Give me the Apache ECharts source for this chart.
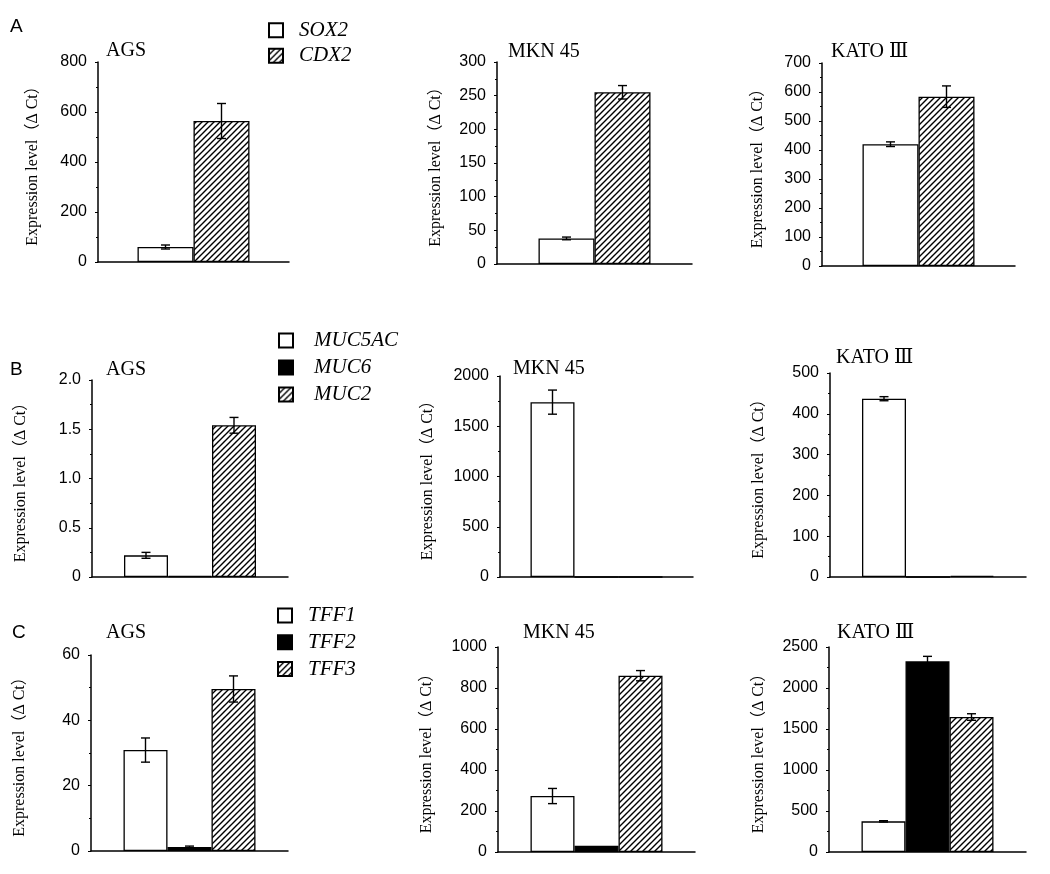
<!DOCTYPE html>
<html>
<head>
<meta charset="utf-8">
<script src="https://cdn.jsdelivr.net/npm/echarts@6/dist/echarts.min.js"></script>
<style>
html,body{margin:0;padding:0;background:#fff;}
#chart{width:1050px;height:874px;}
</style>
</head>
<body>
<div id="chart"></div>
<script>
// ---------------- DATA ----------------
const cellLines = ['AGS', 'MKN 45', 'KATO Ⅲ'];
const panelLetters = ['A', 'B', 'C'];
const yName = 'Expression level（Δ Ct）';

// Panel A
const genesA = ['SOX2', 'CDX2'];
const sox2 = [60, 38, 420];
const sox2Err = [8, 2, 8];
const cdx2 = [564, 255, 584];
const cdx2Err = [70, 10, 37];
const yMaxA = [800, 300, 700];
const yStepA = [200, 50, 100];

// Panel B
const genesB = ['MUC5AC', 'MUC6', 'MUC2'];
const muc5ac = [0.22, 1740, 437];
const muc5acErr = [0.03, 120, 5];
const muc6 = [0.01, 0, 0];
const muc6Err = [0, 0, 0];
const muc2 = [1.54, 0, 3];
const muc2Err = [0.08, 0, 0];
const yMaxB = [2, 2000, 500];
const yStepB = [0.5, 500, 100];

// Panel C
const genesC = ['TFF1', 'TFF2', 'TFF3'];
const tff1 = [30.9, 273, 374];
const tff1Err = [3.7, 37, 8];
const tff2 = [1.2, 30, 2326];
const tff2Err = [0.3, 0, 60];
const tff3 = [49.6, 860, 1646];
const tff3Err = [4, 25, 40];
const yMaxC = [60, 1000, 2500];
const yStepC = [20, 200, 500];

// tick label text for the AGS panel of B (decimal labels)
const tickLabelsB0 = {0: '0', 0.5: '0.5', 1: '1.0', 1.5: '1.5', 2: '2.0'};

// ---------------- STYLE / LAYOUT ----------------
const hatch = (function () {
  const c = document.createElement('canvas');
  c.width = 6; c.height = 6;
  const ctx = c.getContext('2d');
  ctx.fillStyle = '#fff'; ctx.fillRect(0, 0, 6, 6);
  ctx.strokeStyle = '#000'; ctx.lineWidth = 1.4;
  ctx.beginPath();
  ctx.moveTo(0, 6); ctx.lineTo(6, 0);
  ctx.moveTo(-1, 1); ctx.lineTo(1, -1);
  ctx.moveTo(5, 7); ctx.lineTo(7, 5);
  ctx.stroke();
  return c;
})();
const fills = {
  open: '#ffffff',
  solid: '#000000',
  hatch: {image: hatch, repeat: 'repeat'}
};

const rows = [
  {genes: genesA, vals: [sox2, cdx2], errs: [sox2Err, cdx2Err], styles: ['open', 'hatch'], barW: 56, yMax: yMaxA, yStep: yStepA},
  {genes: genesB, vals: [muc5ac, muc6, muc2], errs: [muc5acErr, muc6Err, muc2Err], styles: ['open', 'solid', 'hatch'], barW: 44, yMax: yMaxB, yStep: yStepB},
  {genes: genesC, vals: [tff1, tff2, tff3], errs: [tff1Err, tff2Err, tff3Err], styles: ['open', 'solid', 'hatch'], barW: 44, yMax: yMaxC, yStep: yStepC}
];

const gridRects = [
  {left: 98, top: 62, width: 191, height: 200},
  {left: 497, top: 62, width: 195, height: 202},
  {left: 822, top: 63, width: 193, height: 203},
  {left: 92, top: 380, width: 196, height: 197},
  {left: 500, top: 376, width: 193, height: 201},
  {left: 830, top: 373, width: 196, height: 204},
  {left: 91, top: 655, width: 197, height: 196},
  {left: 498, top: 647, width: 197, height: 205},
  {left: 829, top: 647, width: 197, height: 205}
];
const nameGaps = [57, 53, 56, 63, 64, 63, 63, 63, 62];
const titlePos = [
  [106, 41], [508, 42], [831, 42],
  [106, 360], [513, 359], [836, 348],
  [106, 623], [523, 623], [837, 623]
];
const letterPos = [[10, 17.5], [10, 360], [12, 623.5]];
const legendPos = [
  {left: 268, top: 19.7, itemGap: 4.5, pad: 11},
  {left: 278, top: 330, itemGap: 6, pad: 16},
  {left: 277, top: 605, itemGap: 5.8, pad: 11}
];

const serif = "'Liberation Serif', 'Times New Roman', 'DejaVu Serif', 'Noto Sans CJK SC', serif";
const sans = "'Liberation Sans', Arial, sans-serif";
const black = '#000';

const grid = [], xAxis = [], yAxis = [], series = [], title = [], legend = [];

rows.forEach((row, r) => {
  const n = row.genes.length;
  legend.push({
    data: row.genes,
    orient: 'vertical',
    left: legendPos[r].left,
    top: legendPos[r].top,
    itemGap: legendPos[r].itemGap,
    itemWidth: 14,
    itemHeight: 14,
    icon: 'rect',
    selectedMode: false,
    padding: 0,
    textStyle: {fontFamily: serif, fontStyle: 'italic', fontSize: 21, color: black, lineHeight: 20, padding: [0, 0, 0, legendPos[r].pad]}
  });
  title.push({
    text: panelLetters[r], left: letterPos[r][0], top: letterPos[r][1], padding: 0,
    textStyle: {fontFamily: sans, fontSize: 19, fontWeight: 'normal', color: black}
  });
  cellLines.forEach((cell, c) => {
    const gi = r * 3 + c;
    grid.push(Object.assign({containLabel: false}, gridRects[gi]));
    title.push({
      text: cell, left: titlePos[gi][0], top: titlePos[gi][1], padding: 0,
      textStyle: {fontFamily: serif, fontSize: 20, fontWeight: 'normal', color: black}
    });
    xAxis.push({
      type: 'category', gridIndex: gi, data: [''],
      axisLine: {show: true, lineStyle: {color: black, width: 1.5}},
      axisTick: {show: false}, axisLabel: {show: false}, splitLine: {show: false}
    });
    const isB0 = (r === 1 && c === 0);
    yAxis.push({
      type: 'value', gridIndex: gi, min: 0, max: row.yMax[c], interval: row.yStep[c],
      splitLine: {show: false},
      axisLine: {show: true, lineStyle: {color: black, width: 1.5}},
      axisTick: {show: true, length: 3, lineStyle: {color: black, width: 1}},
      minorTick: {show: true, splitNumber: 2, length: 2, lineStyle: {color: black, width: 1}},
      axisLabel: {
        margin: 11, fontFamily: sans, fontSize: 16, color: black,
        formatter: isB0 ? (v => tickLabelsB0[v] !== undefined ? tickLabelsB0[v] : String(v)) : (v => String(v))
      },
      name: yName, nameLocation: 'middle', nameGap: nameGaps[gi],
      nameTextStyle: {fontFamily: serif, fontSize: 16, color: black}
    });
    row.genes.forEach((g, k) => {
      series.push({
        type: 'bar', name: g, xAxisIndex: gi, yAxisIndex: gi,
        data: [row.vals[k][c]],
        barWidth: row.barW, barGap: '0%',
        itemStyle: {color: fills[row.styles[k]], borderColor: black, borderWidth: 1.3},
        silent: true
      });
    });
    const barW = row.barW;
    series.push({
      type: 'custom', xAxisIndex: gi, yAxisIndex: gi, z: 5, silent: true,
      data: row.genes.map((g, k) => [0, row.vals[k][c], row.errs[k][c], k]),
      encode: {x: 0, y: 1},
      renderItem: function (params, api) {
        const v = api.value(1), e = api.value(2), k = api.value(3);
        if (!e) return null;
        const cx = api.coord([0, v])[0] + (k - (n - 1) / 2) * barW;
        const yT = api.coord([0, v + e])[1];
        const yB = api.coord([0, v - e])[1];
        const st = {stroke: black, lineWidth: 1.4};
        return {
          type: 'group',
          children: [
            {type: 'line', shape: {x1: cx, y1: yT, x2: cx, y2: yB}, style: st},
            {type: 'line', shape: {x1: cx - 4.5, y1: yT, x2: cx + 4.5, y2: yT}, style: st},
            {type: 'line', shape: {x1: cx - 4.5, y1: yB, x2: cx + 4.5, y2: yB}, style: st}
          ]
        };
      }
    });
  });
});

const chart = echarts.init(document.getElementById('chart'), null, {renderer: 'canvas'});
chart.setOption({
  animation: false,
  backgroundColor: '#fff',
  title, legend, grid, xAxis, yAxis, series
});
</script>
</body>
</html>
